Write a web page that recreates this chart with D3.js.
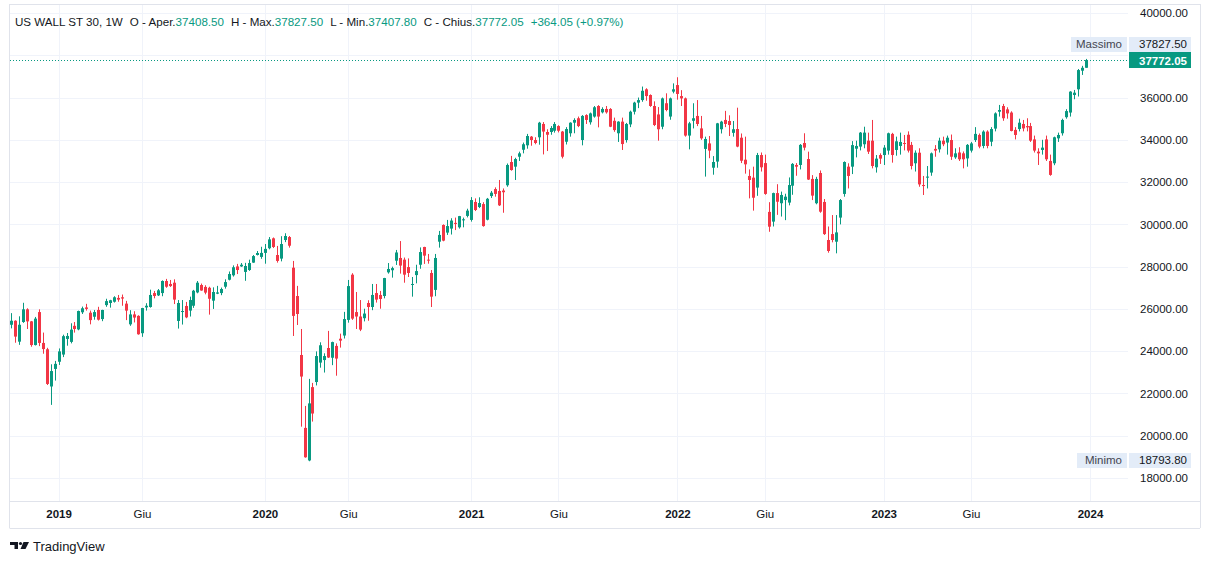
<!DOCTYPE html>
<html><head><meta charset="utf-8">
<script src="https://cdn.jsdelivr.net/npm/d3@7"></script>
<style>
html,body{margin:0;padding:0;background:#fff;}
svg{display:block;font-family:"Liberation Sans",Arial,sans-serif;}
</style></head><body>
<svg id="c" width="1209" height="564"></svg>
<script>
// ---------- DATA (weekly candles, first week starting 2018-10-15) ----------
const firstWeek = "2018-10-15";
const openV = [25250,25440,24450,25380,25980,25410,24290,25850,24390,24090,22330,23160,23500,23840,24580,24440,25200,25030,25840,26070,25820,25630,25950,25520,26180,26280,26340,26520,26550,26250,25270,25740,25670,24850,26070,26090,26750,26640,26750,27320,27180,27240,25430,25880,26140,25920,26150,26780,27130,27040,27000,26390,26720,26750,27050,27380,27590,28010,28010,27750,27840,28190,28550,28460,28650,28870,29340,28550,28380,29260,29400,27950,26610,23820,20370,18830,22300,22540,23460,23580,24150,23690,24250,24590,24740,25480,27620,25850,25640,25560,26280,26090,26750,26660,26610,27730,27830,28280,28410,28330,27980,27170,27600,28090,28930,28330,27700,26900,29180,29970,29610,29800,30070,29860,30190,30400,30210,31060,30820,30960,30220,31340,31670,31580,31600,31850,32950,32730,33200,33530,33740,34150,33990,34120,34750,34370,34370,34430,34650,34390,33910,34310,34810,35020,33990,35170,34830,35100,35600,35300,35460,35460,34900,34310,34860,33990,34730,35330,35760,35880,36390,36120,35600,35200,34620,35730,35100,36280,36590,36070,35960,34200,34900,35130,34540,33570,33830,32680,32970,34500,34940,34890,34330,34510,34100,33060,32290,32210,31740,33280,32900,30590,30130,31480,31000,31150,31030,31830,32810,32810,33850,33090,32150,31000,32430,31060,29260,29540,29180,30320,31440,32730,32730,33580,33680,33790,33960,33960,32700,33280,33280,33490,34280,33520,33710,33850,34240,33760,32890,33390,31860,32210,32450,33570,33550,33960,33870,33990,33170,33400,33360,33120,33490,33990,34230,33710,34390,33910,34530,35330,35600,35440,35290,34470,34510,34750,34650,34650,34020,33440,33520,34020,33000,32890,34070,34310,35070,35290,36120,36390,37270,37408.5];
const highV = [25800,25460,25650,26290,26030,25430,25620,25980,24880,24160,23380,23540,24130,24780,24860,25320,25380,25920,26110,26240,25920,25950,26100,25960,26480,26430,26600,26660,26680,26380,25940,25890,25700,26050,26270,26910,26850,26940,27350,27420,27370,27400,26420,26420,26330,26580,26900,27320,27200,27120,27050,27020,27090,27010,27400,27770,28060,28130,28170,28180,28330,28550,28740,28940,29070,29400,29380,28980,29440,29580,29450,28270,27090,25050,21410,22690,22500,23990,24420,23900,24960,24450,24370,24830,25860,27370,27690,26800,26420,26010,26410,27180,27180,26850,27470,28170,28000,28790,29210,28430,28390,27510,28090,28910,28940,28600,27840,28600,29690,30000,30210,30290,30320,30400,30320,30740,31290,31230,31280,31050,31250,31580,31750,32100,31700,32880,33240,33150,33440,33870,34280,34180,34120,34850,34840,34500,34650,34840,34690,34420,34600,34830,35020,35100,35170,35210,35290,35600,35640,35540,35600,35500,35050,34880,35050,34800,35380,35800,36000,36520,36440,36150,35820,35550,36000,36200,36000,36670,36960,36350,36000,34850,35730,35880,35130,34150,34180,33230,34800,34900,35370,35160,34890,35520,34300,34150,32600,32730,33380,33400,33300,31050,31500,31900,31550,31450,32220,32900,32900,33800,34310,33440,32330,32250,32550,31200,29900,30440,30440,31200,32980,32890,33940,33960,34370,34620,34340,34940,33280,33360,33750,34340,34330,34150,34340,34230,34400,33900,33500,33600,32290,32760,33400,33750,34100,34150,34200,34250,33600,33650,33450,33800,33900,34600,34300,34450,34450,34600,35300,35650,35700,35540,35350,34600,35000,34940,35020,34800,34200,33600,34000,34200,33300,34150,34340,35000,35450,36300,36360,37350,37500,37827.5];
const lowV = [25080,24400,24300,25340,25050,24210,24270,24240,23880,22400,21460,22610,23350,23720,24260,24370,24880,24990,25760,25920,25270,25490,25450,25420,26100,26060,26300,26340,26150,25470,25200,25360,24780,24680,25920,26060,26500,26610,26600,27000,27040,26230,25070,25260,25560,25640,26050,26740,26860,26690,25730,26000,26700,26650,26960,27350,27530,27650,27990,27330,27800,28180,28530,28370,28140,28820,28880,28190,28250,29160,28900,24720,25240,20430,18960,18793.8,20670,22380,23220,22990,23680,23340,22840,24170,24600,25350,25480,25050,24950,25410,25440,25940,26300,26010,26500,27670,27480,28080,27670,27240,27510,26580,27210,27900,28130,28140,26090,26600,28900,29200,29500,29520,29730,29800,29860,30330,30130,30630,30770,29890,30190,31250,31310,30870,30550,31780,32540,32100,33000,33360,33580,33720,33790,33770,33310,33470,34240,34340,34350,33120,33780,34150,34310,34600,33740,34750,34720,35050,34590,35250,35240,34600,34380,33900,33520,33870,34600,35200,35500,35800,35850,35560,34650,33960,34500,35350,34950,36200,35900,35600,34150,33550,34540,34650,34000,32260,33130,32350,32680,34300,34600,34180,34150,33650,32900,32400,31230,30650,31350,32500,31400,29650,29900,30450,30370,30200,30900,31400,32300,32600,33500,32100,31150,30950,30550,29500,28660,29150,28630,30000,31310,31700,32380,33170,33500,33600,33330,32650,32450,32860,32810,33300,32920,33250,33300,33500,33400,32600,32500,31780,31390,31700,32300,33200,33400,33700,33300,33050,33100,33000,32650,32730,33400,33900,33600,33600,33600,33700,34400,35100,34900,35000,34400,34020,34400,34400,34400,33900,33400,32810,33300,33000,32300,32800,33900,34200,35000,35100,35920,36050,37070,37407.8];
const closeV = [25440,24690,25250,25980,25410,24290,25540,24390,24100,22450,23060,23400,23990,24710,24720,25020,25050,25900,26030,26000,25470,25850,25490,25950,26370,26410,26550,26440,26490,25920,25740,25590,24800,26040,26150,26660,26610,26880,27320,27050,27080,26440,26280,25900,25600,26420,26860,27240,26870,26770,26480,26800,26780,26940,27270,27650,27970,27840,28090,28030,28170,28500,28645,28650,28840,29290,28930,28270,29070,29450,28990,25670,25760,22800,18980,21530,21050,23770,24280,23770,23700,24430,23650,24500,25520,27080,25540,25640,25020,25780,26090,26660,26440,26470,27460,27890,27930,28670,28050,27620,27700,27180,27790,28690,28520,28310,26580,28410,29500,29230,29920,30180,30020,30390,30240,30650,31150,30680,31010,29920,31210,31500,31440,30900,31520,32810,32570,33090,33360,33790,34180,33990,33850,34810,34390,34240,34560,34750,34430,33200,34510,34810,34940,34650,35130,34940,35250,35540,35100,35460,35300,34620,34460,34860,33800,34750,35330,35760,35880,36320,36070,35600,34700,34500,35960,35410,35960,36390,36170,35960,34200,34780,35020,34750,34070,34040,33490,32950,34780,34860,34750,34700,34500,33680,33010,32840,32100,31260,33280,32700,31440,29890,31480,31070,31390,31310,31860,32860,32730,33760,33630,32120,31360,32150,30600,29540,28740,29260,29620,31150,32950,32290,33750,33710,34340,34340,33440,32760,33110,33110,33630,34310,33280,33930,33900,33840,33490,32760,33390,31890,31820,32260,33360,33490,33960,33790,34100,33200,33360,33080,33080,33760,33830,34280,33680,34390,33710,34510,35250,35410,35020,35250,34420,34230,34810,34540,34590,33960,33490,33360,33630,33080,32340,34120,34230,34940,35360,36280,36230,37300,37408,37772.05];

const yTicks = [18000,20000,22000,24000,26000,28000,30000,32000,34000,36000,38000,40000];
const timeTickDates = ["2019-01-07","2019-06-03","2020-01-06","2020-06-01","2021-01-04","2021-06-07","2022-01-03","2022-06-06","2023-01-02","2023-06-05","2024-01-01"];
const timeTickLabels = ["2019","Giu","2020","Giu","2021","Giu","2022","Giu","2023","Giu","2024"];
const symbolTitle = "US WALL ST 30, 1W";
const legendNames = ["O - Aper.","H - Max.","L - Min.","C - Chius."];
const legendValues = ["37408.50","37827.50","37407.80","37772.05"];
const changeText = "+364.05 (+0.97%)";
const highLabel = ["Massimo","37827.50"];
const lowLabel = ["Minimo","18793.80"];
const lastPrice = 37772.05;
const maxPrice = 37827.5, minPrice = 18793.8;

// ---------- DRAW ----------
const UP="#089981", DOWN="#f23645", TXT="#131722", GRID="#f0f3fa", BORDER="#e0e3eb", TAGBG="#e3ecf8";
const svg = d3.select("#c");
const plotL=10, plotR=1128, plotT=4, plotB=501, axisB=528, rightEdge=1200;

const parse = d3.utcParse("%Y-%m-%d");
const t0 = parse(firstWeek);
const weeks = openV.map((_,i)=>d3.utcMonday.offset(t0,i));
const x = d3.scaleUtc().domain([t0, parse("2024-01-01")]).range([11,1090]);
const y = d3.scaleLinear().domain([18000,40000]).range([478,13]);

svg.append("rect").attr("width",1209).attr("height",564).attr("fill","#fff");

// grid
const grid = svg.append("g");
grid.selectAll("line.h").data(yTicks).join("line")
  .attr("x1",plotL).attr("x2",plotR).attr("y1",d=>Math.round(y(d))+0.5).attr("y2",d=>Math.round(y(d))+0.5)
  .attr("stroke",GRID);
grid.selectAll("line.v").data(timeTickDates.map(parse)).join("line")
  .attr("y1",plotT).attr("y2",plotB).attr("x1",d=>Math.round(x(d))+0.5).attr("x2",d=>Math.round(x(d))+0.5)
  .attr("stroke",GRID);

// frame
const fr = svg.append("g").attr("stroke",BORDER).attr("fill","none");
fr.append("line").attr("x1",plotL-0.5).attr("x2",plotL-0.5).attr("y1",plotT).attr("y2",axisB);
fr.append("line").attr("x1",plotL-0.5).attr("x2",rightEdge+0.5).attr("y1",plotT+0.5).attr("y2",plotT+0.5);
fr.append("line").attr("x1",plotL-0.5).attr("x2",rightEdge).attr("y1",plotB+0.5).attr("y2",plotB+0.5);
fr.append("line").attr("x1",plotL-0.5).attr("x2",rightEdge).attr("y1",axisB+0.5).attr("y2",axisB+0.5);
fr.append("line").attr("x1",rightEdge+0.5).attr("x2",rightEdge+0.5).attr("y1",plotT).attr("y2",axisB);

// candles
svg.append("clipPath").attr("id","pc").append("rect").attr("x",plotL).attr("y",plotT).attr("width",plotR-plotL).attr("height",plotB-plotT);
const cg = svg.append("g").attr("clip-path","url(#pc)");
const data = weeks.map((d,i)=>({d,o:openV[i],h:highV[i],l:lowV[i],c:closeV[i]}));
const cnd = cg.selectAll("g").data(data).join("g");
cnd.append("rect")
  .attr("x",d=>Math.round(x(d.d))).attr("width",1)
  .attr("y",d=>y(d.h)).attr("height",d=>Math.max(1,y(d.l)-y(d.h)))
  .attr("fill",d=>d.c>=d.o?UP:DOWN);
cnd.append("rect")
  .attr("x",d=>Math.round(x(d.d))-1).attr("width",3)
  .attr("y",d=>y(Math.max(d.o,d.c))).attr("height",d=>Math.max(1,Math.abs(y(d.o)-y(d.c))))
  .attr("fill",d=>d.c>=d.o?UP:DOWN);

// last price dotted line
const lpY = Math.round(y(lastPrice));
svg.append("line").attr("x1",plotL).attr("x2",plotR).attr("y1",lpY+0.5).attr("y2",lpY+0.5)
  .attr("stroke",UP).attr("stroke-dasharray","1,2");

// tag boxes (high / low / last)
const hiTop = lpY - 8 - 15, loTop = Math.round(y(minPrice)) - 8;
const tagBoxes = [[hiTop,15],[loTop,15],[lpY-8,16]];
const hidden = v => tagBoxes.some(([t,h])=>{const yy=y(v); return yy>t-6 && yy<t+h+6;});

// y axis
const yAx = svg.append("g").attr("transform",`translate(${plotR+4},0)`)
  .call(d3.axisRight(y).tickValues(yTicks.filter(v=>!hidden(v))).tickFormat(d3.format(".2f")).tickSize(0).tickPadding(8));
yAx.select(".domain").remove();
yAx.selectAll("text").attr("fill",TXT).style("font-size","11.5px").style("font-family","Liberation Sans, Arial, sans-serif");

// x axis
const xAx = svg.append("g").attr("transform",`translate(0,${plotB+1})`)
  .call(d3.axisBottom(x).tickValues(timeTickDates.map(parse)).tickFormat((d,i)=>timeTickLabels[i]).tickSize(0).tickPadding(8));
xAx.select(".domain").remove();
xAx.selectAll("text").attr("fill",TXT).style("font-size","11.5px").style("font-family","Liberation Sans, Arial, sans-serif")
  .style("font-weight",(d,i)=>/^\d/.test(timeTickLabels[i])?"600":"400");

function axisTag(top, label, val, boxX){
  const g = svg.append("g");
  const h=15;
  g.append("rect").attr("x",boxX).attr("y",top).attr("width",1127-boxX).attr("height",h).attr("fill",TAGBG);
  g.append("rect").attr("x",1129).attr("y",top).attr("width",62).attr("height",h).attr("fill",TAGBG);
  g.append("text").attr("x",1122).attr("y",top+11).attr("text-anchor","end").attr("fill","#434651").style("font-size","11.5px").text(label);
  g.append("text").attr("x",1187).attr("y",top+11).attr("text-anchor","end").attr("fill",TXT).style("font-size","11.5px").text(val);
}
axisTag(hiTop, highLabel[0], highLabel[1], 1071);
axisTag(loTop, lowLabel[0], lowLabel[1], 1077);
svg.append("rect").attr("x",1129).attr("y",lpY-8).attr("width",62).attr("height",16).attr("fill",UP);
svg.append("text").attr("x",1187).attr("y",lpY+4.5).attr("text-anchor","end").attr("fill","#fff")
  .style("font-size","11.5px").style("font-weight","700").text(d3.format(".2f")(lastPrice));

// legend
const lg = svg.append("text").attr("x",15).attr("y",26).style("font-size","11.6px").attr("fill",TXT);
lg.append("tspan").text(symbolTitle);
legendNames.forEach((n,i)=>{
  lg.append("tspan").attr("dx",7).text(n);
  lg.append("tspan").attr("fill",UP).text(legendValues[i]);
});
lg.append("tspan").attr("dx",7).attr("fill",UP).text(changeText);

// TradingView logo
const lgo = svg.append("g").attr("fill",TXT);
lgo.append("path").attr("d","M10,542 H18 V549 H14.5 V545 H10 Z");
lgo.append("circle").attr("cx",20.5).attr("cy",543.5).attr("r",1.6);
lgo.append("path").attr("d","M23.5,542 H29 L25.5,549 H20.5 Z");
svg.append("text").attr("x",33).attr("y",551).attr("fill",TXT).style("font-size","13px").text("TradingView");
</script>
</body></html>
